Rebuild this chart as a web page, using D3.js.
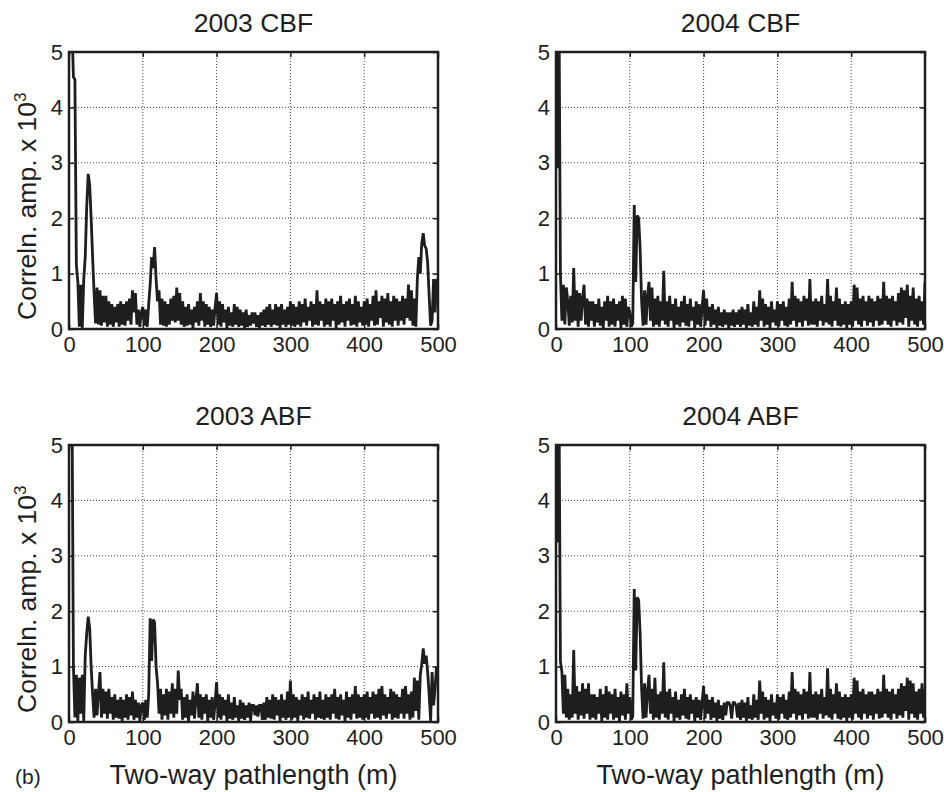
<!DOCTYPE html>
<html>
<head>
<meta charset="utf-8">
<script src="https://cdn.jsdelivr.net/npm/d3@7"></script>
<style>
  body { margin: 0; background: #fff; }
  svg { display: block; }
</style>
</head>
<body>
<div id="chart"></div>
<script>
// eixo x: distância (m), amostras a cada 2 m de 0 a 500
const xTicks = [0, 100, 200, 300, 400, 500];
const yTicks = [0, 1, 2, 3, 4, 5];
const passo = 2;

const cbf2003 = [
  6.0, 6.0, 5.5, 4.55, 4.5, 1.15, 0.85, 0.04, 0.8, 0.02, 0.9, 1.3, 2.2, 2.8, 2.6, 2.0, 1.3, 0.65, 0.1, 0.75, 0.08, 0.7, 0.06, 0.6, 0.12,
  0.6, 0.04, 0.5, 0.08, 0.45, 0.04, 0.4, 0.12, 0.45, 0.04, 0.5, 0.08, 0.45, 0.06, 0.5, 0.15, 0.55, 0.08, 0.7, 0.3, 0.65, 0.08, 0.35, 0.04, 0.3,
  0.4, 0.06, 0.35, 0.04, 0.45, 0.8, 1.3, 1.1, 1.48, 0.9, 0.5, 0.7, 0.08, 0.55, 0.06, 0.5, 0.04, 0.45, 0.08, 0.55, 0.15, 0.6, 0.12, 0.75, 0.15,
  0.65, 0.08, 0.5, 0.04, 0.4, 0.06, 0.45, 0.08, 0.35, 0.02, 0.4, 0.12, 0.5, 0.06, 0.65, 0.15, 0.5, 0.04, 0.45, 0.08, 0.4, 0.04, 0.35, 0.06, 0.4,
  0.65, 0.08, 0.5, 0.04, 0.45, 0.12, 0.35, 0.02, 0.4, 0.06, 0.3, 0.04, 0.45, 0.08, 0.4, 0.04, 0.35, 0.06, 0.3, 0.02, 0.35, 0.04, 0.25, 0.06, 0.3,
  0.1, 0.3, 0.04, 0.25, 0.02, 0.3, 0.06, 0.35, 0.04, 0.4, 0.08, 0.45, 0.04, 0.35, 0.08, 0.45, 0.06, 0.4, 0.02, 0.45, 0.08, 0.35, 0.04, 0.4, 0.08,
  0.5, 0.06, 0.45, 0.04, 0.4, 0.08, 0.5, 0.04, 0.45, 0.12, 0.55, 0.06, 0.4, 0.15, 0.5, 0.04, 0.45, 0.08, 0.7, 0.06, 0.5, 0.15, 0.45, 0.04, 0.55,
  0.08, 0.5, 0.04, 0.55, 0.15, 0.45, 0.02, 0.5, 0.08, 0.6, 0.12, 0.45, 0.04, 0.5, 0.15, 0.55, 0.06, 0.45, 0.08, 0.6, 0.04, 0.5, 0.12, 0.4, 0.06,
  0.5, 0.08, 0.55, 0.04, 0.45, 0.15, 0.6, 0.06, 0.7, 0.08, 0.5, 0.2, 0.6, 0.04, 0.55, 0.12, 0.65, 0.08, 0.5, 0.04, 0.6, 0.15, 0.55, 0.06, 0.5,
  0.15, 0.6, 0.08, 0.55, 0.2, 0.8, 0.15, 0.7, 0.06, 0.55, 0.04, 0.9, 1.3, 1.0, 1.55, 1.73, 1.5, 1.45, 1.2, 0.6, 0.06, 0.15, 0.9, 0.3, 0.9,
  0.85
];

const cbf2004 = [
  6.0, 2.9, 6.0, 1.0, 0.15, 0.8, 0.08, 0.75, 0.5, 0.06, 0.6, 0.12, 1.1, 0.15, 0.7, 0.04, 0.65, 0.15, 0.55, 0.8, 0.08, 0.55, 0.04, 0.5, 0.15,
  0.5, 0.04, 0.45, 0.12, 0.55, 0.06, 0.4, 0.02, 0.5, 0.15, 0.6, 0.04, 0.5, 0.08, 0.55, 0.04, 0.45, 0.15, 0.5, 0.02, 0.6, 0.08, 0.55, 0.04, 0.4,
  0.3, 0.04, 0.1, 2.24, 0.85, 2.05, 2.0, 1.45, 0.5, 0.06, 0.7, 0.08, 0.6, 0.85, 0.15, 0.75, 0.04, 0.55, 0.08, 0.6, 0.04, 0.5, 0.15, 1.05, 0.08,
  0.5, 0.04, 0.6, 0.15, 0.45, 0.02, 0.55, 0.08, 0.4, 0.04, 0.5, 0.12, 0.6, 0.06, 0.45, 0.04, 0.55, 0.15, 0.4, 0.02, 0.5, 0.08, 0.45, 0.04, 0.4,
  0.7, 0.06, 0.55, 0.15, 0.4, 0.04, 0.45, 0.08, 0.35, 0.02, 0.4, 0.06, 0.3, 0.04, 0.35, 0.08, 0.3, 0.02, 0.3, 0.06, 0.35, 0.04, 0.3, 0.08, 0.35,
  0.04, 0.4, 0.08, 0.35, 0.02, 0.45, 0.06, 0.3, 0.04, 0.5, 0.08, 0.4, 0.04, 0.7, 0.15, 0.55, 0.04, 0.45, 0.08, 0.4, 0.02, 0.5, 0.12, 0.35, 0.06,
  0.5, 0.04, 0.45, 0.15, 0.5, 0.06, 0.4, 0.04, 0.55, 0.08, 0.85, 0.15, 0.6, 0.04, 0.55, 0.12, 0.5, 0.04, 0.6, 0.15, 0.55, 0.06, 0.9, 0.08, 0.5,
  0.08, 0.55, 0.04, 0.5, 0.15, 0.6, 0.06, 0.45, 0.12, 0.9, 0.08, 0.6, 0.04, 0.5, 0.15, 0.75, 0.06, 0.55, 0.04, 0.45, 0.08, 0.5, 0.02, 0.45, 0.08,
  0.5, 0.04, 0.8, 0.15, 0.75, 0.08, 0.55, 0.04, 0.6, 0.15, 0.5, 0.06, 0.6, 0.12, 0.55, 0.04, 0.5, 0.15, 0.6, 0.06, 0.55, 0.08, 0.85, 0.15, 0.6,
  0.08, 0.55, 0.04, 0.6, 0.15, 0.5, 0.06, 0.65, 0.12, 0.75, 0.08, 0.7, 0.2, 0.8, 0.04, 0.6, 0.15, 0.75, 0.08, 0.55, 0.04, 0.6, 0.15, 0.5, 0.08,
  0.85
];

const abf2003 = [
  6.0, 6.0, 6.0, 1.0, 0.08, 0.85, 0.02, 0.8, 0.15, 0.85, 0.02, 1.2, 1.6, 1.9, 1.7, 1.0, 0.5, 0.08, 0.6, 0.12, 0.55, 0.9, 0.08, 0.6, 0.15,
  0.55, 0.06, 0.6, 0.15, 0.45, 0.04, 0.5, 0.08, 0.4, 0.06, 0.45, 0.02, 0.4, 0.08, 0.5, 0.04, 0.45, 0.12, 0.55, 0.04, 0.4, 0.08, 0.35, 0.02, 0.3,
  0.35, 0.04, 0.4, 0.08, 0.5, 1.87, 1.1, 1.85, 1.8, 1.0, 0.7, 0.15, 0.6, 0.04, 0.5, 0.12, 0.6, 0.04, 0.55, 0.15, 0.7, 0.08, 0.6, 0.15, 0.93,
  0.4, 0.6, 0.04, 0.45, 0.08, 0.5, 0.02, 0.4, 0.12, 0.55, 0.06, 0.4, 0.7, 0.08, 0.5, 0.04, 0.45, 0.15, 0.5, 0.02, 0.4, 0.08, 0.45, 0.04, 0.35,
  0.72, 0.08, 0.5, 0.04, 0.45, 0.12, 0.4, 0.02, 0.5, 0.06, 0.35, 0.04, 0.45, 0.08, 0.3, 0.02, 0.4, 0.06, 0.35, 0.04, 0.3, 0.08, 0.35, 0.02, 0.3,
  0.3, 0.12, 0.3, 0.1, 0.3, 0.3, 0.04, 0.35, 0.04, 0.45, 0.08, 0.4, 0.06, 0.5, 0.04, 0.45, 0.12, 0.4, 0.02, 0.5, 0.08, 0.4, 0.04, 0.55, 0.08,
  0.75, 0.04, 0.5, 0.08, 0.45, 0.02, 0.4, 0.12, 0.5, 0.04, 0.45, 0.08, 0.55, 0.06, 0.4, 0.15, 0.5, 0.04, 0.45, 0.08, 0.55, 0.06, 0.4, 0.04, 0.5,
  0.08, 0.45, 0.04, 0.5, 0.15, 0.6, 0.06, 0.45, 0.04, 0.5, 0.12, 0.4, 0.02, 0.55, 0.08, 0.45, 0.04, 0.5, 0.15, 0.65, 0.06, 0.5, 0.08, 0.45, 0.04,
  0.5, 0.08, 0.55, 0.04, 0.45, 0.15, 0.55, 0.06, 0.5, 0.08, 0.6, 0.04, 0.65, 0.12, 0.5, 0.06, 0.45, 0.15, 0.6, 0.04, 0.55, 0.08, 0.5, 0.06, 0.45,
  0.15, 0.6, 0.06, 0.65, 0.15, 0.5, 0.04, 0.55, 0.08, 0.8, 0.2, 0.75, 0.04, 0.85, 1.05, 1.33, 1.05, 1.2, 0.9, 0.5, 0.02, 0.9, 0.3, 0.6, 1.0,
  0.95
];

const abf2004 = [
  6.0, 3.24, 6.0, 1.1, 0.9, 0.15, 0.85, 0.08, 0.6, 0.04, 0.5, 0.08, 1.3, 0.15, 0.65, 0.04, 0.55, 0.12, 0.7, 0.06, 0.6, 0.15, 0.7, 0.04, 0.5,
  0.08, 0.5, 0.04, 0.45, 0.15, 0.6, 0.02, 0.5, 0.08, 0.65, 0.04, 0.55, 0.15, 0.5, 0.04, 0.6, 0.08, 0.45, 0.02, 0.55, 0.12, 0.5, 0.04, 0.7, 0.15,
  0.45, 0.04, 0.1, 2.4, 0.93, 2.25, 2.2, 1.6, 0.6, 0.06, 0.7, 0.08, 0.55, 0.85, 0.15, 0.6, 0.04, 0.8, 0.08, 0.5, 0.04, 0.55, 0.15, 1.08, 0.08,
  0.55, 0.04, 0.6, 0.15, 0.45, 0.02, 0.55, 0.08, 0.4, 0.04, 0.5, 0.12, 0.6, 0.06, 0.45, 0.04, 0.5, 0.15, 0.4, 0.02, 0.45, 0.08, 0.4, 0.04, 0.35,
  0.65, 0.06, 0.5, 0.15, 0.4, 0.04, 0.45, 0.08, 0.35, 0.02, 0.4, 0.06, 0.3, 0.04, 0.35, 0.12, 0.35, 0.35, 0.3, 0.06, 0.35, 0.35, 0.3, 0.08, 0.35,
  0.04, 0.4, 0.08, 0.35, 0.02, 0.45, 0.06, 0.3, 0.04, 0.5, 0.08, 0.4, 0.04, 0.75, 0.15, 0.55, 0.04, 0.45, 0.08, 0.4, 0.02, 0.5, 0.12, 0.35, 0.06,
  0.5, 0.04, 0.45, 0.15, 0.5, 0.06, 0.4, 0.04, 0.55, 0.08, 0.9, 0.15, 0.6, 0.04, 0.55, 0.12, 0.5, 0.04, 0.6, 0.15, 0.55, 0.06, 0.9, 0.08, 0.5,
  0.08, 0.55, 0.04, 0.5, 0.15, 0.6, 0.06, 0.45, 0.12, 0.97, 0.08, 0.6, 0.04, 0.5, 0.15, 0.7, 0.06, 0.55, 0.04, 0.45, 0.08, 0.5, 0.02, 0.45, 0.08,
  0.5, 0.04, 0.8, 0.15, 0.75, 0.08, 0.55, 0.04, 0.6, 0.15, 0.5, 0.06, 0.55, 0.12, 0.55, 0.04, 0.5, 0.15, 0.6, 0.06, 0.55, 0.08, 0.85, 0.15, 0.6,
  0.08, 0.55, 0.04, 0.6, 0.15, 0.5, 0.06, 0.6, 0.12, 0.7, 0.08, 0.65, 0.2, 0.8, 0.04, 0.75, 0.15, 0.7, 0.08, 0.55, 0.04, 0.6, 0.15, 0.7, 0.08,
  0.6
];

const paineis = [
  { titulo: "2003 CBF", valores: cbf2003, col: 0, lin: 0 },
  { titulo: "2004 CBF", valores: cbf2004, col: 1, lin: 0 },
  { titulo: "2003 ABF", valores: abf2003, col: 0, lin: 1 },
  { titulo: "2004 ABF", valores: abf2004, col: 1, lin: 1 }
];

const largura = 944;
const altura = 792;
const plotW = 369;
const plotH = 277;
const colX = [69, 556];
const linY = [52, 445];
const fonte = "'Liberation Sans', Arial, Helvetica, sans-serif";
const tinta = "#1e1e1e";

const svg = d3.select("#chart").append("svg")
    .attr("width", largura)
    .attr("height", altura)
    .style("font-family", fonte);

const escalaX = d3.scaleLinear().domain([0, 500]).range([0, plotW]);
const escalaY = d3.scaleLinear().domain([0, 5]).range([plotH, 0]);

const linha = d3.line()
    .x((d, i) => escalaX(i * passo))
    .y(d => escalaY(d));

function estiloEixo(g, mostrarTexto) {
    g.attr("font-family", fonte).attr("font-size", 22).attr("color", tinta);
    g.select(".domain").remove();
    g.selectAll(".tick line").attr("stroke-width", 1.5);
    if (!mostrarTexto) g.selectAll(".tick text").remove();
}

paineis.forEach((p, idx) => {
    const g = svg.append("g")
        .attr("transform", `translate(${colX[p.col]},${linY[p.lin]})`);

    // Grade pontilhada
    g.append("g").selectAll("line")
        .data(xTicks.slice(1, -1))
        .join("line")
        .attr("x1", d => escalaX(d)).attr("x2", d => escalaX(d))
        .attr("y1", 0).attr("y2", plotH)
        .attr("stroke", "#444")
        .attr("stroke-width", 1)
        .attr("stroke-dasharray", "1,2");

    g.append("g").selectAll("line")
        .data(yTicks.slice(1, -1))
        .join("line")
        .attr("x1", 0).attr("x2", plotW)
        .attr("y1", d => escalaY(d)).attr("y2", d => escalaY(d))
        .attr("stroke", "#444")
        .attr("stroke-width", 1)
        .attr("stroke-dasharray", "1,2");

    // Sinal de correlação
    g.append("clipPath").attr("id", "recorte" + idx)
        .append("rect").attr("width", plotW).attr("height", plotH);

    g.append("path")
        .datum(p.valores)
        .attr("clip-path", `url(#recorte${idx})`)
        .attr("d", linha)
        .attr("fill", "none")
        .attr("stroke", tinta)
        .attr("stroke-width", 2.8)
        .attr("stroke-linejoin", "miter")
        .attr("stroke-miterlimit", 2);

    // Eixos com marcas para dentro
    g.append("g")
        .attr("transform", `translate(0,${plotH})`)
        .call(d3.axisBottom(escalaX).tickValues(xTicks).tickFormat(d3.format("d")).tickSizeInner(-5).tickSizeOuter(0).tickPadding(7))
        .call(e => estiloEixo(e, true));

    g.append("g")
        .call(d3.axisLeft(escalaY).tickValues(yTicks).tickFormat(d3.format("d")).tickSizeInner(-5).tickSizeOuter(0).tickPadding(6))
        .call(e => estiloEixo(e, true));

    g.append("g")
        .call(d3.axisTop(escalaX).tickValues(xTicks).tickSizeInner(-5).tickSizeOuter(0))
        .call(e => estiloEixo(e, false));

    g.append("g")
        .attr("transform", `translate(${plotW},0)`)
        .call(d3.axisRight(escalaY).tickValues(yTicks).tickSizeInner(-5).tickSizeOuter(0))
        .call(e => estiloEixo(e, false));

    // Moldura
    g.append("rect")
        .attr("width", plotW)
        .attr("height", plotH)
        .attr("fill", "none")
        .attr("stroke", tinta)
        .attr("stroke-width", 2.5);

    // Título
    g.append("text")
        .attr("x", plotW / 2)
        .attr("y", -20)
        .attr("text-anchor", "middle")
        .attr("fill", tinta)
        .style("font-size", "26.5px")
        .text(p.titulo);

    // Rótulo do eixo Y (só na coluna da esquerda)
    if (p.col === 0) {
        const t = g.append("text")
            .attr("transform", `translate(-33,${plotH - 9}) rotate(-90)`)
            .attr("text-anchor", "start")
            .attr("fill", tinta)
            .style("font-size", "26.5px");
        t.append("tspan").text("Correln. amp. x 10");
        t.append("tspan").attr("dy", -10).style("font-size", "17px").text("3");
    }

    // Rótulo do eixo X (só na linha de baixo)
    if (p.lin === 1) {
        g.append("text")
            .attr("x", plotW / 2)
            .attr("y", plotH + 62)
            .attr("text-anchor", "middle")
            .attr("fill", tinta)
            .style("font-size", "27px")
            .text("Two-way pathlength (m)");
    }
});

svg.append("text")
    .attr("x", 15)
    .attr("y", 784)
    .attr("fill", tinta)
    .style("font-size", "21px")
    .text("(b)");
</script>
</body>
</html>
